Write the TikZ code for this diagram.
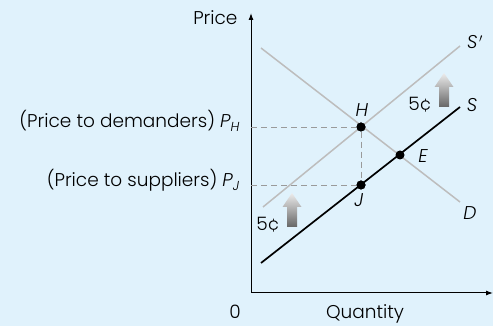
\documentclass[tikz,border=0pt]{standalone}
\usepackage{fontspec}
\setmainfont{Poppins}[UprightFont=* Light, ItalicFont=* Light Italic]
\usepackage{xcolor}
\usepackage{tikz}
\usetikzlibrary{positioning,arrows.meta,calc}
\definecolor{panelbg}{HTML}{E0F2FC}
\definecolor{curvegray}{HTML}{BDBDBD}
\definecolor{guidegray}{HTML}{9A9A9A}

\begin{document}
\begin{tikzpicture}[
    x=1pt, y=1pt,
    font=\fontsize{18.5}{22}\selectfont,
    axis/.style={line width=1pt, -{Latex[length=7pt,width=5pt]}},
    supply/.style={line width=1.7pt, black},
    shifted/.style={line width=1.5pt, draw=curvegray},
    guide/.style={line width=0.9pt, draw=guidegray, dash pattern=on 6pt off 4pt},
    dot/.style={circle, fill=black, inner sep=0pt, minimum size=9pt},
    lbl/.style={font=\fontsize{18.5}{22}\selectfont\itshape},
    taxarrow/.pic={\shade[top color=gray!15, bottom color=gray!80!black]
        (-5,0) -- (5,0) -- (5,20) -- (9.5,20) -- (0,34) -- (-9.5,20) -- (-5,20) -- cycle;}
]
    \fill[panelbg] (0,0) rectangle (493,326);
    \useasboundingbox (0,0) rectangle (493,326);

    % Axes
    \coordinate (origin) at (251,33);
    \draw[axis] (origin) -- (251,313) coordinate (ytop);
    \draw[axis] (origin) -- (493,33) coordinate (xend);
    \node[anchor=base east] (pricelbl) at (241,301) {Price};
    \node[anchor=base] (zero) at (235,7) {0};
    \node[anchor=base] (qtylbl) at (365,7) {Quantity};

    % Curves
    \coordinate (Dtop) at (261,278); \coordinate (Dbot) at (460,124);
    \coordinate (Slow) at (261,63); \coordinate (Shigh) at (460,219);
    \coordinate (Splow) at (263,119); \coordinate (Sphigh) at (460,280);
    \draw[shifted] (Dtop) -- (Dbot);
    \draw[shifted] (Splow) -- (Sphigh);
    \node[dot] (H) at (361,199) {};
    \node[dot] (J) at (361,141) {};
    \node[dot] (E) at (400,171) {};
    \draw[supply] (Slow) -- (Shigh);

    % Tax wedge
    \coordinate (PH) at (origin |- H); \coordinate (PJ) at (origin |- J);
    \draw[guide] (PH) -- (H);
    \draw[guide] (PJ) -- (J);
    \draw[guide] (H) -- (J);
    \node[dot] at (H) {}; \node[dot] at (J) {};

    % Labels
    \node[lbl] (Hlbl) at (362,216) {H};
    \node[lbl] (Elbl) at (423,170) {E};
    \node[lbl] (Jlbl) at (359,126) {J};
    \node[lbl] (Splbl) at (475,284) {S\kern1.5pt$'$};
    \node[lbl] (Slbl) at (472,221) {S};
    \node[lbl] (Dlbl) at (470,113) {D};
    \node[anchor=base east] (PHlbl) at (243,198) {(Price to demanders) \textit{P}\raisebox{-3.5pt}{\fontsize{13}{14}\selectfont\itshape H}};
    \node[anchor=base east] (PJlbl) at (243,139) {(Price to suppliers) \textit{P}\raisebox{-3.5pt}{\fontsize{13}{14}\selectfont\itshape J}};

    % Tax arrows
    \pic at (444,219) {taxarrow};
    \pic at (292,99) {taxarrow};
    \node (centhigh) at (420,221) {5¢};
    \node (centlow) at (268,101) {5¢};
\end{tikzpicture}
\end{document}
